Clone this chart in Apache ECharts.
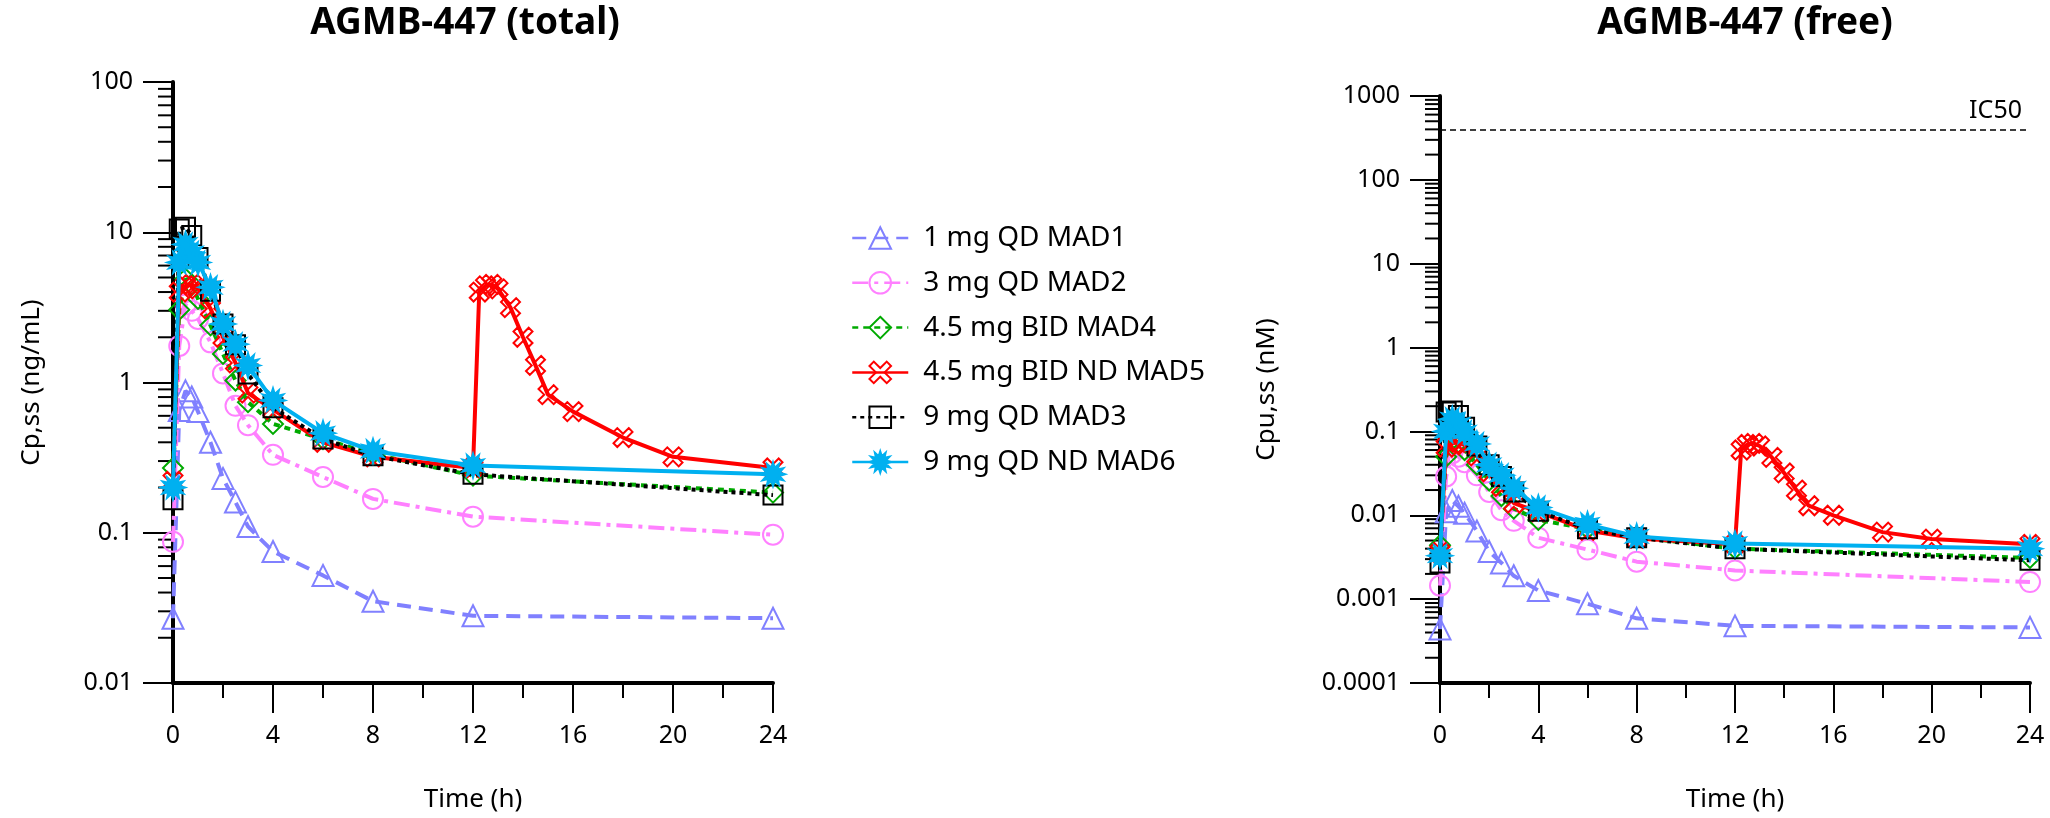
<!DOCTYPE html>
<html>
<head>
<meta charset="utf-8">
<script src="https://cdn.jsdelivr.net/npm/echarts@6/dist/echarts.min.js"></script>
<style>html,body{margin:0;padding:0;background:#fff}#c{width:2050px;height:818px}</style>
</head>
<body>
<div id="c"></div>
<script>
// ---- data ----
const seriesNames = ['1 mg QD MAD1', '3 mg QD MAD2', '4.5 mg BID MAD4', '4.5 mg BID ND MAD5', '9 mg QD MAD3', '9 mg QD ND MAD6'];
const timeQD = [0, 0.25, 0.5, 0.75, 1, 1.5, 2, 2.5, 3, 4, 6, 8, 12, 24];
const timeBID = [0, 0.25, 0.5, 0.75, 1, 1.5, 2, 2.5, 3, 4, 6, 8, 12, 12.25, 12.5, 12.75, 13, 13.5, 14, 14.5, 15, 16, 18, 20, 24];
const xTicks = [0, 4, 8, 12, 16, 20, 24];
const yTicksTotal = [0.01, 0.1, 1, 10, 100];
const yTicksFree = [0.0001, 0.001, 0.01, 0.1, 1, 10, 100, 1000];
const ic50 = 400;

// total (ng/mL)
const totalMAD1 = [0.027, 0.65, 0.88, 0.80, 0.64, 0.40, 0.23, 0.16, 0.11, 0.075, 0.052, 0.035, 0.028, 0.027];
const totalMAD2 = [0.087, 1.75, 3.3, 3.0, 2.65, 1.85, 1.15, 0.70, 0.52, 0.33, 0.235, 0.168, 0.128, 0.097];
const totalMAD4 = [0.27, 3.05, 4.9, 4.5, 3.6, 2.4, 1.55, 1.03, 0.74, 0.53, 0.42, 0.335, 0.24, 0.185];
const totalMAD5 = [0.22, 4.0, 4.4, 4.5, 4.2, 3.1, 2.0, 1.35, 0.85, 0.66, 0.40, 0.32, 0.27, 4.0, 4.4, 4.5, 4.2, 3.15, 2.0, 1.3, 0.83, 0.64, 0.43, 0.32, 0.27];
const totalMAD3 = [0.166, 10.5, 10.8, 9.5, 6.8, 4.05, 2.45, 1.78, 1.14, 0.68, 0.42, 0.325, 0.245, 0.178];
const totalMAD6 = [0.2, 6.3, 8.3, 7.3, 6.3, 4.3, 2.45, 1.8, 1.3, 0.76, 0.46, 0.35, 0.28, 0.245];

// free (nM)
const freeMAD1 = [0.00044, 0.011, 0.0150, 0.0128, 0.0106, 0.0065, 0.0037, 0.0027, 0.0019, 0.00127, 0.00088, 0.00059, 0.00048, 0.00046];
const freeMAD2 = [0.00145, 0.029, 0.055, 0.050, 0.043, 0.030, 0.019, 0.0115, 0.0086, 0.0054, 0.0039, 0.0028, 0.0022, 0.0016];
const freeMAD4 = [0.0044, 0.050, 0.080, 0.074, 0.060, 0.040, 0.026, 0.017, 0.012, 0.0088, 0.0069, 0.0055, 0.0040, 0.0031];
const freeMAD5 = [0.0036, 0.065, 0.072, 0.074, 0.069, 0.051, 0.033, 0.022, 0.014, 0.011, 0.0066, 0.0053, 0.0045, 0.060, 0.070, 0.072, 0.067, 0.049, 0.032, 0.020, 0.013, 0.010, 0.0063, 0.0052, 0.0045];
const freeMAD3 = [0.0027, 0.17, 0.175, 0.155, 0.112, 0.067, 0.040, 0.029, 0.019, 0.0112, 0.0069, 0.0054, 0.0040, 0.0029];
const freeMAD6 = [0.0033, 0.10, 0.14, 0.122, 0.098, 0.071, 0.040, 0.030, 0.021, 0.0124, 0.0078, 0.0056, 0.0046, 0.0040];

// ---- styles ----
const FONT = 'Noto Sans';
const xPath = 'path://M76.5 5.8 L94.2 23.5 L67.7 50 L94.2 76.5 L76.5 94.2 L50 67.7 L23.5 94.2 L5.8 76.5 L32.3 50 L5.8 23.5 L23.5 5.8 L50 32.3 Z';
function starPath(n, ro, ri) {
  let s = '';
  for (let i = 0; i < 2 * n; i++) {
    const r = i % 2 === 0 ? ro : ri;
    const a = Math.PI * i / n - Math.PI / 2;
    s += (i === 0 ? 'M' : 'L') + (50 + r * Math.cos(a)).toFixed(2) + ' ' + (50 + r * Math.sin(a)).toFixed(2) + ' ';
  }
  return 'path://' + s + 'Z';
}
const styles = [
  {color: '#8080FF', symbol: 'triangle', size: 21, dash: [14, 8], fill: 'rgba(0,0,0,0)'},
  {color: '#FF80FF', symbol: 'circle', size: 20, dash: [16, 6, 4, 6], fill: 'rgba(0,0,0,0)'},
  {color: '#00AA00', symbol: 'diamond', size: 20, dash: [6, 5], fill: 'rgba(0,0,0,0)'},
  {color: '#FF0000', symbol: xPath, size: 19, dash: 'solid', fill: 'rgba(0,0,0,0)'},
  {color: '#000000', symbol: 'rect', size: 19, dash: [4, 4], fill: 'rgba(0,0,0,0)'},
  {color: '#00B0F0', symbol: starPath(12, 50, 28), size: 24, dash: 'solid', fill: '#00B0F0'}
];

function mk(i, xs, ys, ax) {
  const st = styles[i];
  return {
    type: 'line', name: seriesNames[i], xAxisIndex: ax, yAxisIndex: ax,
    data: xs.map((x, k) => [x, ys[k]]),
    symbol: st.symbol, symbolSize: st.size, showAllSymbol: true, clip: false,
    lineStyle: {color: st.color, width: 4, type: st.dash},
    itemStyle: {color: st.fill, borderColor: st.color, borderWidth: 2},
    emphasis: {disabled: true}, animation: false, z: 3 + i
  };
}

function minorTicks(ticks) {
  const out = [];
  for (let k = 0; k < ticks.length - 1; k++) {
    for (let m = 2; m <= 9; m++) out.push(Number((ticks[k] * m).toPrecision(6)));
  }
  return out;
}
function tickSeries(ax, ticks) {
  return {
    type: 'custom', xAxisIndex: ax, yAxisIndex: ax, silent: true, clip: false, z: 1,
    data: minorTicks(ticks).map(v => [0, v]),
    renderItem: function (params, api) {
      const p = api.coord([0, api.value(1)]);
      return {type: 'line', shape: {x1: p[0] - 15, y1: p[1], x2: p[0], y2: p[1]}, style: {stroke: '#000', lineWidth: 2}};
    }
  };
}

const fmt = v => String(Number(v.toPrecision(6)));
function xAxis(gi) {
  return {
    type: 'value', gridIndex: gi, min: xTicks[0], max: xTicks[xTicks.length - 1], interval: xTicks[1] - xTicks[0],
    name: 'Time (h)', nameLocation: 'middle', nameGap: 104,
    nameTextStyle: {fontFamily: FONT, fontSize: 26, color: '#000'},
    axisLine: {show: true, lineStyle: {color: '#000', width: 4}},
    axisTick: {show: true, length: 30, lineStyle: {color: '#000', width: 2}},
    minorTick: {show: true, splitNumber: 2, length: 15, lineStyle: {color: '#000', width: 2}},
    axisLabel: {fontFamily: FONT, fontSize: 25, color: '#000', margin: 40},
    splitLine: {show: false}, minorSplitLine: {show: false}
  };
}
function yAxis(gi, ticks, name, gap) {
  return {
    type: 'log', logBase: 10, gridIndex: gi, min: ticks[0], max: ticks[ticks.length - 1], interval: 1,
    name: name, nameLocation: 'middle', nameGap: gap,
    nameTextStyle: {fontFamily: FONT, fontSize: 26, color: '#000'},
    axisLine: {show: true, lineStyle: {color: '#000', width: 4}},
    axisTick: {show: true, length: 30, lineStyle: {color: '#000', width: 2}},
    minorTick: {show: false},
    axisLabel: {fontFamily: FONT, fontSize: 25, color: '#000', margin: 40, formatter: fmt, showMinLabel: true, showMaxLabel: true},
    splitLine: {show: false}
  };
}

const totals = [totalMAD1, totalMAD2, totalMAD4, totalMAD5, totalMAD3, totalMAD6];
const frees = [freeMAD1, freeMAD2, freeMAD4, freeMAD5, freeMAD3, freeMAD6];
const series = [tickSeries(0, yTicksTotal), tickSeries(1, yTicksFree)];
totals.forEach((d, i) => series.push(mk(i, i === 3 ? timeBID : timeQD, d, 0)));
frees.forEach((d, i) => series.push(mk(i, i === 3 ? timeBID : timeQD, d, 1)));
// IC50 reference line on the free panel
series[series.length - 1].markLine = {
  silent: true, symbol: 'none', animation: false,
  lineStyle: {color: '#000', type: [6, 4], width: 1.5},
  label: {show: true, position: 'insideEndTop', formatter: 'IC50', fontFamily: FONT, fontSize: 25, color: '#000', distance: [8, 6]},
  data: [{yAxis: ic50}]
};

const chart = echarts.init(document.getElementById('c'), null, {renderer: 'canvas'});
chart.setOption({
  backgroundColor: '#fff',
  animation: false,
  title: [
    {text: 'AGMB-447 (total)', left: 460, top: 0, textAlign: 'center', textStyle: {fontFamily: FONT, fontSize: 37, fontWeight: 'bold', color: '#000'}},
    {text: 'AGMB-447 (free)', left: 1740, top: 0, textAlign: 'center', textStyle: {fontFamily: FONT, fontSize: 37, fontWeight: 'bold', color: '#000'}}
  ],
  legend: {
    data: seriesNames, orient: 'vertical', left: 846, top: 218,
    itemWidth: 56, itemHeight: 27, itemGap: 14.8,
    textStyle: {fontFamily: FONT, fontSize: 28, color: '#000', lineHeight: 30, padding: [0, 0, 0, 10]},
    lineStyle: {width: 2.5}
  },
  grid: [
    {left: 173, top: 82, width: 600, height: 601},
    {left: 1440, top: 96, width: 590, height: 588}
  ],
  xAxis: [xAxis(0), xAxis(1)],
  yAxis: [yAxis(0, yTicksTotal, 'Cp,ss (ng/mL)', 128), yAxis(1, yTicksFree, 'Cpu,ss (nM)', 160)],
  series: series
});
</script>
</body>
</html>
